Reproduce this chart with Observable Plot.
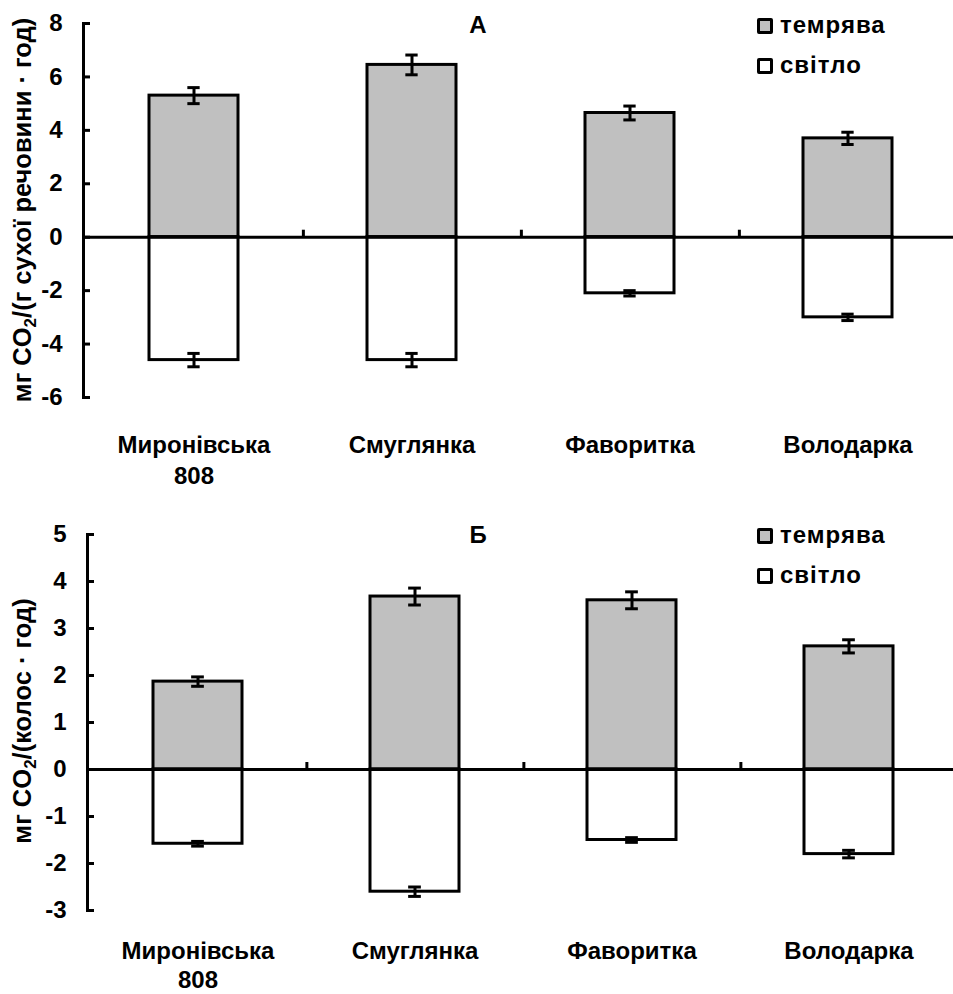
<!DOCTYPE html>
<html><head><meta charset="utf-8">
<script src="https://cdn.jsdelivr.net/npm/d3@7"></script>
<script src="https://cdn.jsdelivr.net/npm/@observablehq/plot@0.6"></script>
<style>
body{margin:0;background:#fff;font-family:"Liberation Sans",Arial,sans-serif;font-weight:bold;color:#000;}
#wrap{position:relative;width:953px;height:994px;overflow:hidden;}
.panel{position:absolute;left:0;}
.ytitle{position:absolute;white-space:nowrap;font-size:25.5px;line-height:26px;transform:translate(-50%,-50%) rotate(-90deg);}
.ytitle sub{font-size:17px;line-height:0;vertical-align:-5px;}
.letter{position:absolute;font-size:24px;line-height:24px;transform:translateX(-50%);}
.lg{position:absolute;font-size:24px;line-height:24px;letter-spacing:1px;}
.sw{position:absolute;width:16px;height:16px;box-sizing:border-box;border:3px solid #000;border-radius:2px;}
</style>
</head><body>
<div id="wrap"></div>
<script>
const categories = ["Миронівська 808", "Смуглянка", "Фаворитка", "Володарка"];
const seriesNames = ["темрява", "світло"];
// Panel А: мг CO2/(г сухої речовини · год)
const darkA = [5.3, 6.45, 4.65, 3.7];
const darkErrA = [0.3, 0.37, 0.26, 0.23];
const lightA = [-4.6, -4.6, -2.1, -3.0];
const lightErrA = [0.25, 0.25, 0.1, 0.12];
const ticksA = [-6, -4, -2, 0, 2, 4, 6, 8];
// Panel Б: мг CO2/(колос · год)
const darkB = [1.87, 3.68, 3.6, 2.62];
const darkErrB = [0.1, 0.18, 0.18, 0.14];
const lightB = [-1.58, -2.6, -1.5, -1.8];
const lightErrB = [0.05, 0.1, 0.05, 0.08];
const ticksB = [-3, -2, -1, 0, 1, 2, 3, 4, 5];

function panel({dark, darkErr, light, lightErr, yTicks, height, marginTop, marginBottom, marginLeft, xPad, lineHeight}) {
  const width = 953, marginRight = -5;
  const rows = categories.map((c, i) => ({c, dark: dark[i], de: darkErr[i], light: light[i], le: lightErr[i]}));
  const innerW = width - marginLeft - marginRight;
  const step = innerW / 4;
  const bw = step * 0.41;
  const capW = 13;
  const innerH = height - marginTop - marginBottom;
  const yDomain = [d3.min(yTicks), d3.max(yTicks)];
  const pxPerUnit = innerH / (yDomain[1] - yDomain[0]);
  const capInset = (bw - capW) / 2;
  return Plot.plot({
    width, height, marginTop, marginBottom, marginLeft, marginRight,
    style: {fontFamily: "Liberation Sans, Arial, sans-serif", fontWeight: "bold", fontSize: "24px", color: "#000", background: "transparent", overflow: "visible"},
    x: {domain: categories, paddingInner: 0.59, paddingOuter: 0.295, axis: null, label: null},
    y: {domain: yDomain, axis: null, label: null},
    marks: [
      Plot.barY(rows, {x: "c", y: "dark", fill: "#c0c0c0", stroke: "#000", strokeWidth: 3}),
      Plot.barY(rows, {x: "c", y: "light", fill: "#fff", stroke: "#000", strokeWidth: 3}),
      Plot.ruleY([0], {stroke: "#000", strokeWidth: 3}),
      Plot.ruleX(categories.slice(0, 3), {x: d => d, dx: step / 2, y1: 0, y2: 7 / pxPerUnit, stroke: "#000", strokeWidth: 3}),
      Plot.ruleX(rows, {x: "c", y1: d => d.dark - d.de, y2: d => d.dark + d.de, stroke: "#000", strokeWidth: 3}),
      Plot.tickY(rows, {x: "c", y: d => d.dark + d.de, insetLeft: capInset, insetRight: capInset, stroke: "#000", strokeWidth: 3}),
      Plot.tickY(rows, {x: "c", y: d => d.dark - d.de, insetLeft: capInset, insetRight: capInset, stroke: "#000", strokeWidth: 3}),
      Plot.ruleX(rows, {x: "c", y1: d => d.light - d.le, y2: d => d.light + d.le, stroke: "#000", strokeWidth: 3}),
      Plot.tickY(rows, {x: "c", y: d => d.light + d.le, insetLeft: capInset, insetRight: capInset, stroke: "#000", strokeWidth: 3}),
      Plot.tickY(rows, {x: "c", y: d => d.light - d.le, insetLeft: capInset, insetRight: capInset, stroke: "#000", strokeWidth: 3}),
      Plot.frame({anchor: "left", stroke: "#000", strokeWidth: 3}),
      Plot.tickY(yTicks, {y: d => d, insetRight: innerW - 7, stroke: "#000", strokeWidth: 3}),
      Plot.axisY(yTicks, {tickSize: 0, tickPadding: 21, fontSize: 24, fontWeight: "bold", label: null, tickFormat: d => String(d)}),
      Plot.axisX({tickSize: 0, tickPadding: xPad, fontSize: 24, fontWeight: "bold", label: null, lineHeight, tickFormat: d => d.replace(" ", "\n")})
    ]
  });
}

const wrap = document.getElementById("wrap");
function add(el, top) { el.classList.add("panel"); el.style.top = top + "px"; wrap.appendChild(el); }

add(panel({dark: darkA, darkErr: darkErrA, light: lightA, lightErr: lightErrA, yTicks: ticksA,
  height: 500, marginTop: 23, marginBottom: 103, marginLeft: 83, xPad: 34, lineHeight: 1.27}), 0);
add(panel({dark: darkB, darkErr: darkErrB, light: lightB, lightErr: lightErrB, yTicks: ticksB,
  height: 494, marginTop: 34, marginBottom: 84, marginLeft: 87, xPad: 28, lineHeight: 1.2}), 500);

function overlay(top, letter, titleHTML, titleCenterY) {
  const t = document.createElement("div");
  t.className = "ytitle"; t.innerHTML = titleHTML;
  t.style.left = "22px"; t.style.top = titleCenterY + "px";
  wrap.appendChild(t);
  const l = document.createElement("div");
  l.className = "letter"; l.textContent = letter;
  l.style.left = "478px"; l.style.top = (top + 13) + "px";
  wrap.appendChild(l);
  const fills = ["#c0c0c0", "#fff"];
  seriesNames.forEach((name, i) => {
    const s = document.createElement("div");
    s.className = "sw"; s.style.background = fills[i];
    s.style.left = "757px"; s.style.top = (top + 18 + i * 40) + "px";
    wrap.appendChild(s);
    const tx = document.createElement("div");
    tx.className = "lg"; tx.textContent = name;
    tx.style.left = "780px"; tx.style.top = (top + 13 + i * 40) + "px";
    wrap.appendChild(tx);
  });
}
overlay(0, "А", "мг CO<sub>2</sub>/(г сухої речовини · год)", 210);
overlay(510, "Б", "мг CO<sub>2</sub>/(колос · год)", 721);
</script>
</body></html>
